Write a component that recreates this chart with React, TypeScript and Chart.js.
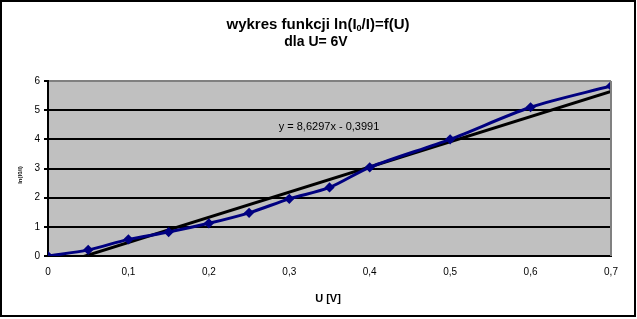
import React, { useEffect, useRef } from "react";
import { Chart, registerables } from "chart.js";

Chart.register(...registerables);

const uValues = [0, 0.05, 0.1, 0.15, 0.2, 0.25, 0.3, 0.35, 0.4, 0.5, 0.6, 0.7];
const lnValues = [0, 0.21, 0.57, 0.82, 1.12, 1.48, 1.96, 2.35, 3.04, 4.0, 5.1, 5.83];
const trendSlope = 8.6297;
const trendIntercept = -0.3991;
const trendX = [0, 0.7];
const equationText = "y = 8,6297x - 0,3991";
const xTickStep = 0.1;
const yTickStep = 1;

const FONT = "'Liberation Sans', Arial, sans-serif";

export default function App() {
  const ref = useRef<HTMLCanvasElement | null>(null);

  useEffect(() => {
    document.body.style.margin = "0";
    const canvas = ref.current!;
    const decor = {
      id: "decor",
      beforeDraw(chart: any) {
        const { ctx, chartArea: a } = chart;
        ctx.save();
        ctx.fillStyle = "#ffffff";
        ctx.fillRect(0, 0, chart.width, chart.height);
        ctx.fillStyle = "#C0C0C0";
        ctx.fillRect(a.left, a.top, a.right - a.left, a.bottom - a.top);
        ctx.restore();
      },
      afterDraw(chart: any) {
        const { ctx, chartArea: a } = chart;
        ctx.save();
        // plot right border
        ctx.strokeStyle = "#808080";
        ctx.lineWidth = 2;
        ctx.beginPath();
        ctx.moveTo(a.right, a.top);
        ctx.lineTo(a.right, a.bottom);
        ctx.stroke();
        // outer border
        ctx.strokeStyle = "#000";
        ctx.lineWidth = 2;
        ctx.strokeRect(1, 1, 634, 315);
        // title
        ctx.fillStyle = "#000";
        ctx.textBaseline = "alphabetic";
        const big = `bold 15px ${FONT}`;
        const small = `bold 9px ${FONT}`;
        const p1 = "wykres funkcji ln(I";
        const p2 = "0";
        const p3 = "/I)=f(U)";
        ctx.font = big;
        const w1 = ctx.measureText(p1).width;
        const w3 = ctx.measureText(p3).width;
        ctx.font = small;
        const w2 = ctx.measureText(p2).width;
        const total = w1 + w2 + w3;
        let x = 318 - total / 2;
        ctx.textAlign = "left";
        ctx.font = big;
        ctx.fillText(p1, x, 29);
        x += w1;
        ctx.font = small;
        ctx.fillText(p2, x, 31);
        x += w2;
        ctx.font = big;
        ctx.fillText(p3, x, 29);
        ctx.textAlign = "center";
        ctx.font = `bold 14px ${FONT}`;
        ctx.fillText("dla U= 6V", 316, 46);
        // x title
        ctx.font = `bold 11px ${FONT}`;
        ctx.fillText("U [V]", 328, 302);
        // y title
        ctx.save();
        ctx.translate(22, 175);
        ctx.rotate(-Math.PI / 2);
        ctx.font = `bold 6px ${FONT}`;
        ctx.fillText("ln(I0/I)", 0, 0);
        ctx.restore();
        // equation
        ctx.font = `11px ${FONT}`;
        ctx.textBaseline = "middle";
        ctx.fillText(equationText, 329, 127);
        ctx.restore();
      },
    };

    const chart = new Chart(canvas, {
      type: "line",
      data: {
        datasets: [
          {
            label: "ln(I0/I)",
            data: uValues.map((u, i) => ({ x: u, y: lnValues[i] })),
            borderColor: "#000080",
            backgroundColor: "#000080",
            borderWidth: 3,
            pointStyle: "rectRot",
            pointRadius: 3,
            tension: 0.3,
            order: 1,
          },
          {
            label: "trend",
            data: trendX.map((u) => ({ x: u, y: trendSlope * u + trendIntercept })),
            borderColor: "#000000",
            borderWidth: 3,
            pointRadius: 0,
            tension: 0,
            order: 2,
          },
        ],
      },
      options: {
        animation: false,
        responsive: false,
        layout: { padding: { left: 0, top: 81, right: 26, bottom: 0 } },
        plugins: { legend: { display: false }, tooltip: { enabled: false }, title: { display: false } },
        scales: {
          x: {
            type: "linear",
            min: 0,
            max: 0.7,
            afterFit: (s: any) => { s.height = 63; },
            grid: { display: false, drawTicks: false },
            border: { display: true, color: "#000", width: 2 },
            ticks: {
              stepSize: xTickStep,
              padding: 10,
              color: "#000",
              font: { family: FONT, size: 10 },
              callback: (v: any) => (v === 0 ? "0" : Number(v).toFixed(1).replace(".", ",")),
            },
          },
          y: {
            min: 0,
            max: 6,
            afterFit: (s: any) => { s.width = 48; },
            grid: {
              color: (c: any) => (c.tick && c.tick.value === 6 ? "#808080" : "#000"),
              lineWidth: 2,
              tickColor: "#000",
              tickLength: 4,
              drawTicks: true,
            },
            border: { display: true, color: "#000", width: 2 },
            ticks: {
              stepSize: yTickStep,
              padding: 4,
              color: "#000",
              font: { family: FONT, size: 10 },
            },
          },
        },
      },
      plugins: [decor],
    } as any);
    return () => chart.destroy();
  }, []);

  return <canvas ref={ref} width={637} height={319} style={{ display: "block" }} />;
}
